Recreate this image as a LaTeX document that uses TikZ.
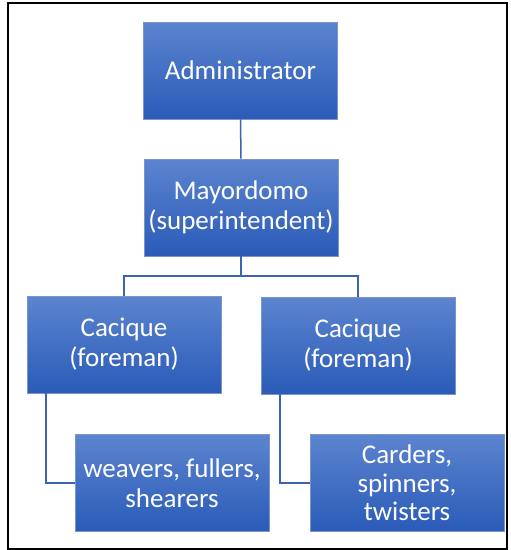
\documentclass[tikz,border=0pt]{standalone}
\usepackage{fontspec}
\setmainfont{Carlito}
\usepackage{xcolor}
\usepackage{tikz}

\definecolor{boxtop}{RGB}{92,132,207}
\definecolor{boxbottom}{RGB}{42,91,184}
\definecolor{boxedge}{RGB}{120,150,205}
\definecolor{linkblue}{RGB}{58,99,176}

\tikzset{
  rolebox/.style={draw=boxedge, line width=0.6pt, top color=boxtop, bottom color=boxbottom,
    minimum width=194pt, minimum height=97pt, inner sep=2pt, text=white, align=center,
    font=\fontsize{27}{30}\selectfont},
  link/.style={draw=linkblue, line width=1.5pt}
}

\begin{document}
\begin{tikzpicture}[x=1pt, y=-1pt]
\useasboundingbox (0,0) rectangle (511,550);
\draw[line width=1.6pt] (8,3) rectangle (507,549);

\node[rolebox] (admin) at (240.5,70.5) {Administrator};
\node[rolebox] (mayor) at (241,207.5) {Mayordomo\\(superintendent)};
\node[rolebox] (cacL) at (124,344.5) {Cacique\\(foreman)};
\node[rolebox] (cacR) at (358,345.5) {Cacique\\(foreman)};
\node[rolebox] (weav) at (172,483) {weavers, fullers,\\shearers};
\node[rolebox, font=\fontsize{27}{28.5}\selectfont] (card) at (407,483) {Carders,\\spinners,\\twisters};

\coordinate (bus) at (241,276);
\coordinate (cl) at (46,393);
\coordinate (cr) at (280,394);

\draw[link] (admin.south) -- (mayor.north);
\draw[link] (mayor.south) -- (bus) -| (cacL.north);
\draw[link] (bus) -| (cacR.north);
\draw[link] (cl) |- (weav.west);
\draw[link] (cr) |- (card.west);
\end{tikzpicture}
\end{document}
